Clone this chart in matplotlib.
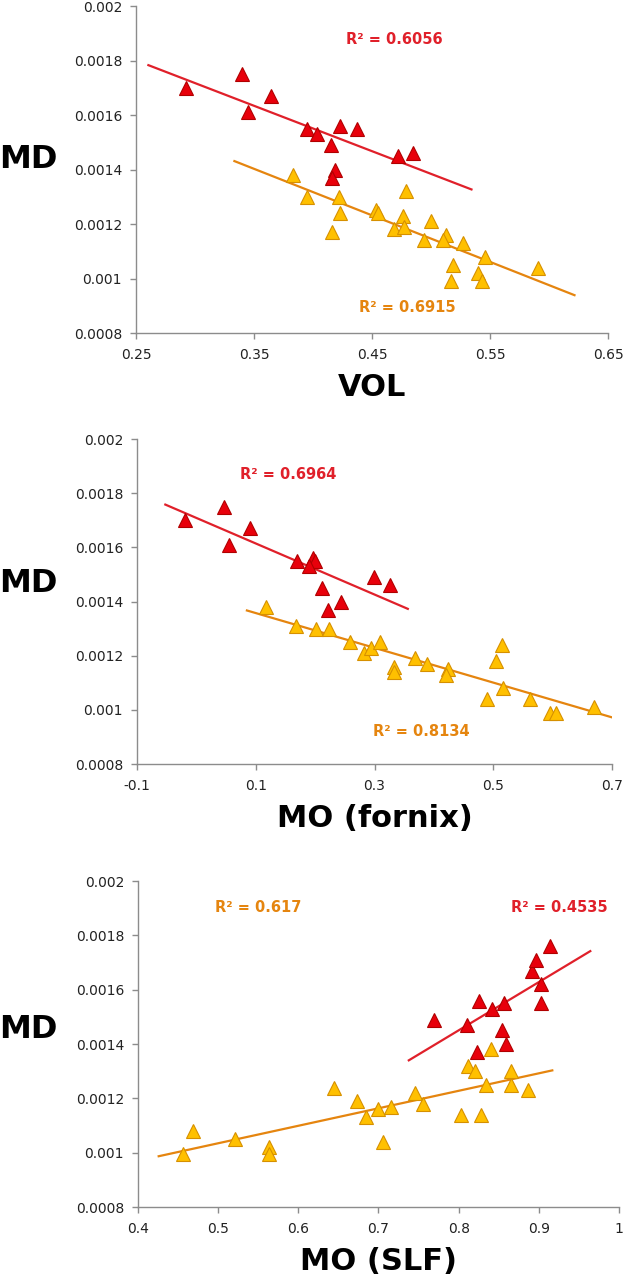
import numpy as np
from matplotlib import pyplot as plt

# MD vs VOL
vol_red_x = [0.292, 0.340, 0.345, 0.364, 0.395, 0.403, 0.423, 0.437, 0.415, 0.419, 0.4165, 0.472, 0.485]
vol_red_y = [0.00170, 0.00175, 0.00161, 0.00167, 0.00155, 0.00153, 0.00156, 0.00155, 0.00149, 0.00140, 0.00137, 0.00145, 0.00146]
vol_org_x = [0.383, 0.395, 0.422, 0.423, 0.416, 0.453, 0.455, 0.479, 0.476, 0.469, 0.477,
             0.500, 0.494, 0.513, 0.510, 0.527, 0.546, 0.519, 0.517, 0.540, 0.543, 0.591]
vol_org_y = [0.00138, 0.00130, 0.00130, 0.00124, 0.00117, 0.00125, 0.00124, 0.00132, 0.00123, 0.00118, 0.00119,
             0.00121, 0.00114, 0.00116, 0.00114, 0.00113, 0.00108, 0.00105, 0.00099, 0.00102, 0.00099, 0.00104]
vol_red_fit = ([0.2605, 0.5343], [0.001783, 0.001327])
vol_org_fit = ([0.3334, 0.6216], [0.001431, 0.000939])

# MD vs MO (fornix)
fx_red_x = [-0.020, 0.046, 0.055, 0.091, 0.170, 0.196, 0.199, 0.189, 0.211, 0.243, 0.221, 0.299, 0.326]
fx_red_y = [0.00170, 0.00175, 0.00161, 0.00167, 0.00155, 0.00156, 0.00155, 0.00153, 0.00145, 0.00140, 0.00137, 0.00149, 0.00146]
fx_org_x = [0.117, 0.168, 0.202, 0.223, 0.258, 0.283, 0.294, 0.310, 0.333, 0.332, 0.369,
            0.389, 0.423, 0.420, 0.515, 0.505, 0.516, 0.490, 0.562, 0.595, 0.606, 0.669]
fx_org_y = [0.00138, 0.00131, 0.00130, 0.00130, 0.00125, 0.00121, 0.00123, 0.00125, 0.00116, 0.00114, 0.00119,
            0.00117, 0.00115, 0.00113, 0.00124, 0.00118, 0.00108, 0.00104, 0.00104, 0.00099, 0.00099, 0.00101]
fx_red_fit = ([-0.0523, 0.3561], [0.001758, 0.001373])
fx_org_fit = ([0.0851, 0.6989], [0.001367, 0.000973])

# MD vs MO (SLF)
slf_red_x = [0.769, 0.810, 0.825, 0.823, 0.841, 0.857, 0.854, 0.859, 0.891, 0.897, 0.903, 0.903, 0.914]
slf_red_y = [0.00149, 0.00147, 0.00156, 0.00137, 0.00153, 0.00155, 0.00145, 0.00140, 0.00167, 0.00171, 0.00162, 0.00155, 0.00176]
slf_org_x = [0.456, 0.468, 0.521, 0.563, 0.563, 0.645, 0.673, 0.684, 0.700, 0.716, 0.706,
             0.746, 0.756, 0.803, 0.812, 0.820, 0.840, 0.834, 0.828, 0.865, 0.865, 0.887]
slf_org_y = [0.000994, 0.00108, 0.00105, 0.00102, 0.000994, 0.00124, 0.00119, 0.00113, 0.00116, 0.00117, 0.00104,
             0.00122, 0.00118, 0.00114, 0.00132, 0.00130, 0.00138, 0.00125, 0.00114, 0.00130, 0.00125, 0.00123]
slf_red_fit = ([0.7378, 0.9642], [0.00134, 0.001742])
slf_org_fit = ([0.4258, 0.9168], [0.000987, 0.001303])

y_ticks = [0.0008, 0.001, 0.0012, 0.0014, 0.0016, 0.0018, 0.002]
y_tick_labels = ['0.0008', '0.001', '0.0012', '0.0014', '0.0016', '0.0018', '0.002']

RED = '#e8000b'
RED_EDGE = '#b00000'
RED_LINE = '#e0202a'
ORG = '#ffc000'
ORG_EDGE = '#d69000'
ORG_LINE = '#e5850f'
AX_GRAY = '#8c8c8c'


def draw_panel(rect, red_x, red_y, org_x, org_y, red_fit, org_fit,
               x_ticks, x_tick_labels, xlabel, r2_red, r2_org):
    ax = fig.add_axes(rect)
    ax.plot(red_fit[0], red_fit[1], color=RED_LINE, lw=1.6, zorder=2)
    ax.plot(org_fit[0], org_fit[1], color=ORG_LINE, lw=1.6, zorder=2)
    ax.plot(org_x, org_y, '^', ms=10, mfc=ORG, mec=ORG_EDGE, mew=0.8, ls='none', zorder=3)
    ax.plot(red_x, red_y, '^', ms=10, mfc=RED, mec=RED_EDGE, mew=0.8, ls='none', zorder=4)
    # R squared labels
    ax.text(r2_red[0], r2_red[1], r2_red[2], color=RED_LINE, fontsize=10.5,
            fontweight='bold', ha='center', va='center')
    ax.text(r2_org[0], r2_org[1], r2_org[2], color=ORG_LINE, fontsize=10.5,
            fontweight='bold', ha='center', va='center')
    ax.set_xlim(x_ticks[0], x_ticks[-1])
    ax.set_ylim(y_ticks[0], y_ticks[-1])
    ax.set_xticks(x_ticks)
    ax.set_xticklabels(x_tick_labels)
    ax.set_yticks(y_ticks)
    ax.set_yticklabels(y_tick_labels)
    for s in ['top', 'right']:
        ax.spines[s].set_visible(False)
    for s in ['left', 'bottom']:
        ax.spines[s].set_color(AX_GRAY)
        ax.spines[s].set_linewidth(1.0)
    ax.tick_params(axis='both', direction='out', length=4, width=1.0, color=AX_GRAY,
                   labelsize=10, labelcolor='#222222')
    ax.tick_params(axis='x', pad=7)
    ax.tick_params(axis='y', pad=6)
    ax.set_xlabel(xlabel, fontsize=22, fontweight='bold', labelpad=8)
    ax.patch.set_alpha(0)
    return ax


fig = plt.figure(figsize=(6.25, 12.8), dpi=100)

draw_panel([0.2176, 0.7398, 0.7552, 0.2555], vol_red_x, vol_red_y, vol_org_x, vol_org_y,
           vol_red_fit, vol_org_fit, [0.25, 0.35, 0.45, 0.55, 0.65],
           ['0.25', '0.35', '0.45', '0.55', '0.65'], 'VOL',
           (0.469, 0.001877, 'R² = 0.6056'), (0.480, 0.000892, 'R² = 0.6915'))

draw_panel([0.2192, 0.4031, 0.7600, 0.2539], fx_red_x, fx_red_y, fx_org_x, fx_org_y,
           fx_red_fit, fx_org_fit, [-0.1, 0.1, 0.3, 0.5, 0.7],
           ['-0.1', '0.1', '0.3', '0.5', '0.7'], 'MO (fornix)',
           (0.154, 0.001868, 'R² = 0.6964'), (0.379, 0.00092, 'R² = 0.8134'))

draw_panel([0.2208, 0.0570, 0.7696, 0.2547], slf_red_x, slf_red_y, slf_org_x, slf_org_y,
           slf_red_fit, slf_org_fit, [0.4, 0.5, 0.6, 0.7, 0.8, 0.9, 1.0],
           ['0.4', '0.5', '0.6', '0.7', '0.8', '0.9', '1'], 'MO (SLF)',
           (0.925, 0.001902, 'R² = 0.4535'), (0.550, 0.001904, 'R² = 0.617'))

# MD labels on the left side
for yy in [160, 583, 1030]:
    fig.text(28 / 625, 1 - yy / 1280, 'MD', fontsize=23, fontweight='bold',
             ha='center', va='center')

fig.savefig('out.png', dpi=100)
